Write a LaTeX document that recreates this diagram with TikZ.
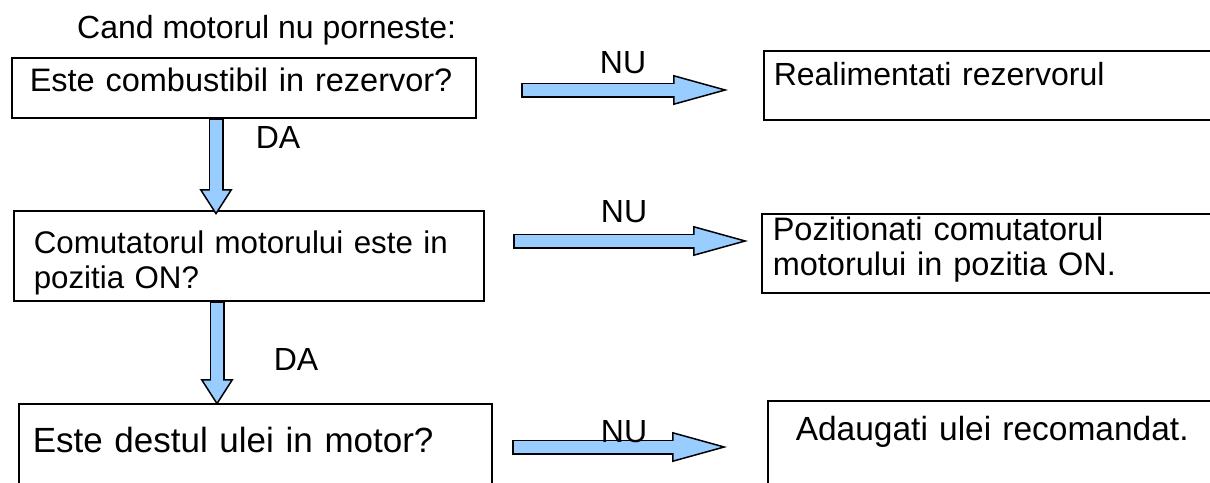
\documentclass[tikz,border=0pt]{standalone}
\usepackage{fontspec}
\setmainfont{Liberation Sans}
\usetikzlibrary{arrows.meta}
\definecolor{arrowblue}{HTML}{99CCFF}

\begin{document}
\begin{tikzpicture}[
  x=1pt, y=-1pt,
  fs/.style={font=\fontsize{#1}{35}\selectfont},
  box/.style={fs=32, draw, line width=1.5pt, anchor=north west, inner ysep=0pt, align=left},
  lbl/.style={fs=32, anchor=base, inner sep=0pt},
  harr/.style={line width=15pt, draw=black,
               -{Triangle[length=55pt, width=30pt, line width=1.5pt, fill=arrowblue]},
               postaction={draw=arrowblue, line width=12pt, arrows=-, shorten <=1.5pt, shorten >=52pt}},
  varr/.style={line width=15pt, draw=black,
               -{Triangle[length=26pt, width=33pt, line width=1.5pt, fill=arrowblue]},
               postaction={draw=arrowblue, line width=12pt, arrows=-, shorten <=1.5pt, shorten >=23pt}}
]
\useasboundingbox (0,0) rectangle (1210,482);

\node[lbl, anchor=base west] (title) at (77,38) {Cand motorul nu porneste:};

% ===== Left column: checks =====
\node[box, fs=32.5, text width=428pt, inner xsep=18pt, text height=34pt, text depth=26pt] (q1) at (11,57)
  {Este combustibil in rezervor?};
\node[box, fs=31.3, text width=430pt, inner xsep=20pt, text height=43pt, text depth=47pt] (q2) at (13,210)
  {Comutatorul motorului este in\\ pozitia ON?};
\node[box, fs=35, text width=445pt, inner xsep=14pt, text height=49pt, text depth=48pt] (q3) at (18,403)
  {Este destul ulei in motor?};

% ===== Right column: remedies =====
\node[box, text width=457pt, inner xsep=10pt, text height=35pt, text depth=34pt] (r1) at (763,50)
  {Realimentati rezervorul};
\node[box, fs=32.5, text width=457pt, inner xsep=11pt, text height=27pt, text depth=52pt] (r2) at (761,213)
  {Pozitionati comutatorul\\ motorului in pozitia ON.};
\node[box, fs=33.5, text width=417pt, inner xsep=28pt, text height=40pt, text depth=61pt] (r3) at (767,400)
  {Adaugati ulei recomandat.};

% ===== DA arrows =====
\coordinate (v1) at (216,215);
\coordinate (v2) at (217,405);
\draw[varr] (v1 |- q1.south) -- (v1);
\draw[varr] (v2 |- q2.south) -- (v2);
\node[lbl] (da1) at (278,148) {DA};
\node[lbl] (da2) at (296,370) {DA};

% ===== NU arrows =====
\coordinate (h1s) at (521,90);  \coordinate (h1e) at (728,90);
\coordinate (h2s) at (513,241); \coordinate (h2e) at (748,241);
\coordinate (h3s) at (512,447); \coordinate (h3e) at (727,447);
\draw[harr] (h1s) -- (h1e);
\draw[harr] (h2s) -- (h2e);
\draw[harr] (h3s) -- (h3e);
\node[lbl] (nu1) at (623,73) {NU};
\node[lbl] (nu2) at (624,222) {NU};
\node[lbl] (nu3) at (624,442) {NU};

\end{tikzpicture}
\end{document}
